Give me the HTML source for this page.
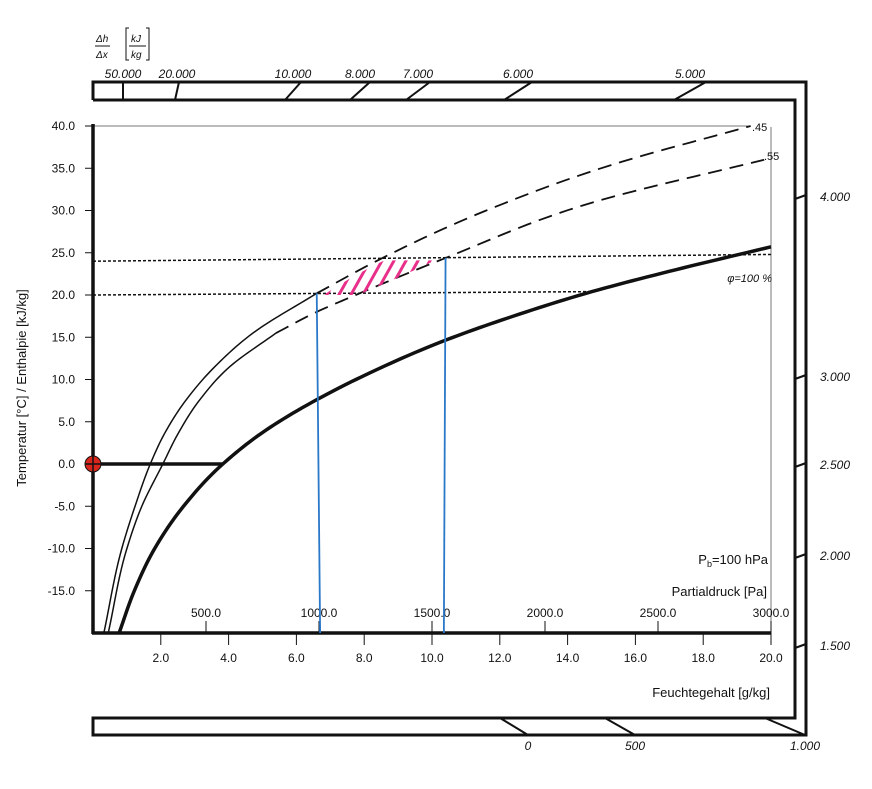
<!DOCTYPE html>
<html><head><meta charset="utf-8"><style>
body{margin:0;background:#fff}
svg text{font-family:"Liberation Sans",sans-serif;fill:#111}
.it{font-style:italic}
</style></head><body>
<svg width="872" height="784" viewBox="0 0 872 784" id="chart">
<defs><clipPath id="hclip"><path id="hpath" d=""/></clipPath></defs>
<g fill="none" stroke="#111" stroke-width="3">
<polyline points="93,100 93,82 806,82 806,735 93,735 93,718 795,718 795,100 93,100"/>
</g>
<g id="g-top"></g>
<g id="g-right"></g>
<g id="g-bot"></g>
<text x="96" y="42" font-size="10" class="it">Δh</text>
<line x1="95" y1="46" x2="110" y2="46" stroke="#111"/>
<text x="96" y="58" font-size="10" class="it">Δx</text>
<text x="131" y="42" font-size="10" class="it">kJ</text>
<line x1="129" y1="46" x2="146" y2="46" stroke="#111"/>
<text x="131" y="58" font-size="10" class="it">kg</text>
<path d="M129,28 h-3 v32 h3 M146,28 h3 v32 h-3" fill="none" stroke="#111"/>
<g id="g-axes"></g>
<g id="g-curves"></g>
<text x="18" y="380" font-size="13" transform="rotate(-90 26 380)" text-anchor="middle">Temperatur [°C] / Enthalpie [kJ/kg]</text>
<text x="770" y="697" font-size="13" text-anchor="end">Feuchtegehalt [g/kg]</text>
<text x="767" y="596" font-size="13" text-anchor="end">Partialdruck [Pa]</text>
<text x="768" y="564" font-size="13" text-anchor="end">P<tspan font-size="9" dy="3">b</tspan><tspan dy="-3">=100 hPa</tspan></text>
<text x="772" y="282" font-size="11" class="it" text-anchor="end">φ=100  %</text>
<text x="752" y="131" font-size="11">.45</text>
<text x="764" y="160" font-size="11">.55</text>
</svg>
<script>
const NS="http://www.w3.org/2000/svg";
const yTicks=[40,35,30,25,20,15,10,5,0,-5,-10,-15];
const xTicks=[2,4,6,8,10,12,14,16,18,20];
const pTicks=[500,1000,1500,2000,2500,3000];
const satX=[0.77,1.22,1.82,2.67,3.83,5.1,6.78,8.28,10.43,12.4,14.72,17.2,20];
const satT=[-20,-15,-10,-5,0,4,8,11,14.7,17.5,20.4,23,25.7];
const c45X=[0.32,0.85,1.24,1.69,2.11,2.75,3.59,4.72,6.6,8.5,11.6,15.3,19.4];
const c45T=[-20,-10,-5,0,3.6,7.6,11.5,15.5,20.2,24.3,30,35.4,40];
const c55X=[0.45,1.0,1.44,2.06,2.51,3.15,4.03,5.4,6.6,7.75,10.35,14.95,19.8];
const c55T=[-20,-10,-5,0,3.6,7.6,11.5,15.5,18,20,24.3,31.2,36];
const topTicks=["50.000","20.000","10.000","8.000","7.000","6.000","5.000"];
const topPos=[123,177,293,360,418,518,690];
const rightTicks=["4.000","3.000","2.500","2.000","1.500"];
const rightPos=[196,376,464,555,645];
const X=v=>93+v*33.9;
const Y=t=>464-t*8.45;
const P=p=>93+p*0.226;
function el(tag,attrs,parent,txt){const e=document.createElementNS(NS,tag);for(const k in attrs)e.setAttribute(k,attrs[k]);if(txt!==undefined)e.textContent=txt;parent.appendChild(e);return e;}
const ax=document.getElementById('g-axes');
let e;
e=el('line',{x1:93,y1:126,x2:750,y2:126,stroke:'#777','stroke-width':1},ax);


e=el('line',{x1:771,y1:127,x2:771,y2:633,stroke:'#777','stroke-width':1},ax);


yTicks.forEach(t=>{
 el('line',{x1:85,y1:Y(t),x2:93,y2:Y(t),stroke:'#111'},ax);
 e=el('text',{x:75,y:Y(t)+4,'font-size':12,'text-anchor':'end'},ax,t.toFixed(1));
 
 
});
xTicks.forEach(v=>{
 el('line',{x1:X(v),y1:633,x2:X(v),y2:645,stroke:'#111'},ax);
 e=el('text',{x:X(v),y:662,'font-size':12,'text-anchor':'middle'},ax,v.toFixed(1));
 
 
});
pTicks.forEach(p=>{
 el('line',{x1:P(p),y1:621,x2:P(p),y2:633,stroke:'#111'},ax);
 e=el('text',{x:P(p),y:617,'font-size':12,'text-anchor':'middle'},ax,p.toFixed(1));
 
 
});
e=el('line',{x1:93,y1:124,x2:93,y2:634,stroke:'#111','stroke-width':3.5},ax);


e=el('line',{x1:92,y1:633,x2:771,y2:633,stroke:'#111','stroke-width':3.5},ax);


const tg=document.getElementById('g-top');
topTicks.forEach((s,i)=>{
 const x=topPos[i];const sl=i<2?(i*2):4+i*2;
 el('line',{x1:x-sl,y1:100,x2:x+sl,y2:82,stroke:'#111','stroke-width':2},tg);
 e=el('text',{x:x,y:78,'font-size':12,'text-anchor':'middle',class:'it'},tg,s);
 
 
});
const rg=document.getElementById('g-right');
rightTicks.forEach((s,i)=>{
 const y=rightPos[i];
 el('line',{x1:795,y1:y+3,x2:806,y2:y-1,stroke:'#111','stroke-width':2},rg);
 e=el('text',{x:820,y:y+5,'font-size':12,class:'it'},rg,s);
 
 
});
const bg=document.getElementById('g-bot');
[["0",500,528],["500",605,635],["1.000",765,805]].forEach(a=>{
 el('line',{x1:a[1],y1:718,x2:a[2],y2:735,stroke:'#111','stroke-width':2},bg);
 e=el('text',{x:a[2],y:750,'font-size':12,'text-anchor':'middle',class:'it'},bg,a[0]);
 
 
});
const cg=document.getElementById('g-curves');
// monotone cubic (x as function of T), sampled
function curvePath(xs,ts){
 const n=xs.length;if(n<2)return '';
 const d=[];for(let i=0;i<n-1;i++)d.push((xs[i+1]-xs[i])/(ts[i+1]-ts[i]));
 const m=[d[0]];for(let i=1;i<n-1;i++){const h0=ts[i]-ts[i-1],h1=ts[i+1]-ts[i];m.push((d[i-1]*h1+d[i]*h0)/(h0+h1));}
 m.push(d[n-2]);
 let out='M'+X(xs[0])+','+Y(ts[0]);
 for(let i=0;i<n-1;i++){const h=ts[i+1]-ts[i];
  for(let k=1;k<=12;k++){const s=k/12,s2=s*s,s3=s2*s;
   const v=(2*s3-3*s2+1)*xs[i]+(s3-2*s2+s)*h*m[i]+(-2*s3+3*s2)*xs[i+1]+(s3-s2)*h*m[i+1];
   out+=' L'+X(v).toFixed(2)+','+Y(ts[i]+s*h).toFixed(2);}}
 return out;}
function split(xs,ts,lim,below){const a=[],b=[];xs.forEach((x,i)=>{if(below?ts[i]<=lim:ts[i]>=lim){a.push(x);b.push(ts[i]);}});return [a,b];}
e=el('line',{x1:93,y1:Y(24),x2:771,y2:Y(24.8),stroke:'#111','stroke-width':1.5,'stroke-dasharray':'3,2'},cg);


e=el('line',{x1:93,y1:Y(20),x2:X(14.7),y2:Y(20.4),stroke:'#111','stroke-width':1.5,'stroke-dasharray':'3,2'},cg);


[[c45X,c45T,'curve-045',20.2],[c55X,c55T,'curve-055',15.5]].forEach(c=>{
 let s=split(c[0],c[1],c[3],true);
 e=el('path',{d:curvePath(s[0],s[1]),fill:'none',stroke:'#111','stroke-width':1.5},cg);
 
 
 s=split(c[0],c[1],c[3],false);
 e=el('path',{d:curvePath(s[0],s[1]),fill:'none',stroke:'#111','stroke-width':1.8,'stroke-dasharray':'14,8'},cg);
 
 
});
e=el('path',{d:curvePath(satX,satT),fill:'none',stroke:'#111','stroke-width':3.5},cg);


document.getElementById('hpath').setAttribute('d','M'+X(6.8)+','+Y(20)+' Q'+X(7.7)+','+Y(22.4)+' '+X(8.6)+','+Y(24.1)+' L'+X(10.1)+','+Y(24.1)+' Q'+X(9.0)+','+Y(22.0)+' '+X(7.8)+','+Y(20)+' Z');
const hg=el('g',{'clip-path':'url(#hclip)'},cg);


for(let x=300;x<480;x+=12){el('line',{x1:x,y1:300,x2:x+28,y2:250,stroke:'#e8308a','stroke-width':3},hg);}
e=el('line',{x1:X(6.6),y1:Y(20.2),x2:X(6.7),y2:633,stroke:'#2a78c8','stroke-width':1.8},cg);


e=el('line',{x1:X(10.4),y1:Y(24.4),x2:X(10.35),y2:633,stroke:'#2a78c8','stroke-width':1.8},cg);


e=el('line',{x1:93,y1:Y(0),x2:X(3.83),y2:Y(0),stroke:'#111','stroke-width':3.5},cg);


e=el('circle',{cx:93,cy:Y(0),r:8,fill:'#d8261c',stroke:'#111','stroke-width':1},cg);


el('path',{d:'M85,'+Y(0)+' h16 M93,'+(Y(0)-8)+' v16',stroke:'#111','stroke-width':1.5},cg);
</script>
</body></html>
